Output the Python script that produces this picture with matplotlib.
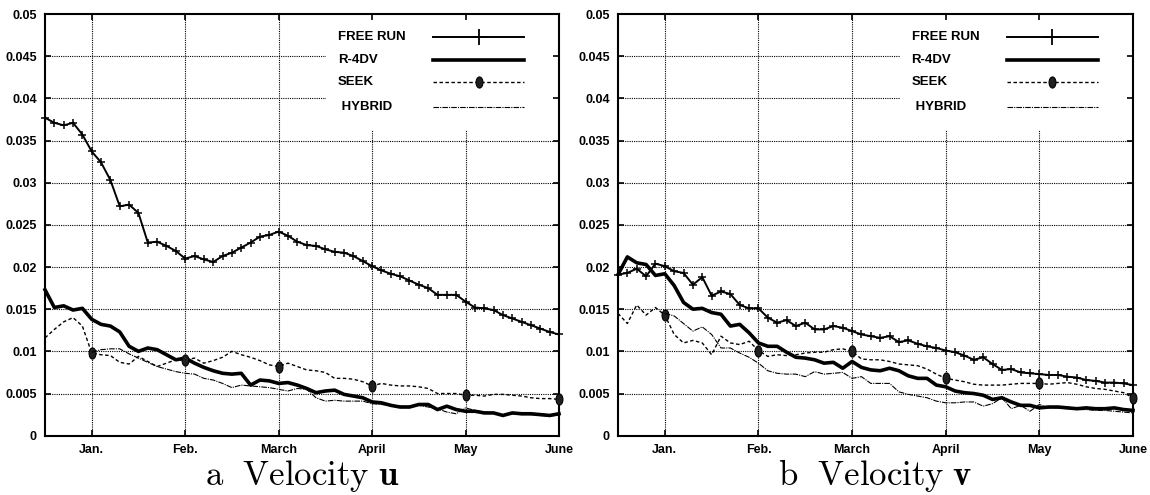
import numpy as np
import matplotlib
matplotlib.use("Agg")
import matplotlib.pyplot as plt
from matplotlib.lines import Line2D
from matplotlib.patches import Rectangle
from matplotlib.path import Path
from matplotlib.transforms import Affine2D

nan = np.nan
# time axis in months (Jan. = 0), sampled every 0.1 month from mid-December to June
months = np.round(np.arange(-5, 51) / 10.0, 1)
month_ticks = [0, 1, 2, 3, 4, 5]
month_labels = ["Jan.", "Feb.", "March", "April", "May", "June"]
y_ticks = [0, 0.005, 0.01, 0.015, 0.02, 0.025, 0.03, 0.035, 0.04, 0.045, 0.05]
y_labels = ["0", "0.005", "0.01", "0.015", "0.02", "0.025", "0.03", "0.035", "0.04", "0.045", "0.05"]
series_names = ["FREE RUN", "R-4DV", "SEEK", " HYBRID"]
captions = [r"$\mathrm{a}\ \ \mathrm{Velocity}\ \mathbf{u}$", r"$\mathrm{b}\ \ \mathrm{Velocity}\ \mathbf{v}$"]

# ---- panel a : velocity u ----
u_free = [0.0377, 0.0371, 0.0368, 0.0371, 0.0357, 0.0337, 0.0324, 0.0303, 0.0272, 0.0274,
          0.0264, 0.0229, 0.0230, 0.0225, 0.0219, 0.0210, 0.0213, 0.0209, 0.0206, 0.0213,
          0.0217, 0.0223, 0.0229, 0.0236, 0.0238, 0.0242, 0.0237, 0.0230, 0.0226, 0.0225,
          0.0221, 0.0218, 0.0217, 0.0213, 0.0207, 0.0201, 0.0196, 0.0192, 0.0189, 0.0184,
          0.0179, 0.0175, 0.0167, 0.0167, 0.0167, 0.0159, 0.0152, 0.0151, 0.0149, 0.0143,
          0.0139, 0.0135, 0.0131, 0.0127, 0.0123, 0.0120]
u_r4dv = [0.0173, 0.0152, 0.0154, 0.0149, 0.0151, 0.0138, 0.0132, 0.0130, 0.0123, 0.0106,
          0.0100, 0.0104, 0.0102, 0.0096, 0.0090, 0.0092, 0.0086, 0.0081, 0.0077, 0.0074,
          0.0073, 0.0074, 0.0060, 0.0066, 0.0065, 0.0062, 0.0063, 0.0060, 0.0056, 0.0051,
          0.0053, 0.0054, 0.0049, 0.0047, 0.0045, 0.0040, 0.0039, 0.0036, 0.0034, 0.0034,
          0.0037, 0.0037, 0.0031, 0.0035, 0.0031, 0.0029, 0.0029, 0.0027, 0.0027, 0.0024,
          0.0027, 0.0026, 0.0026, 0.0025, 0.0024, 0.0026]
u_seek = [0.0116, 0.0126, 0.0135, 0.0140, 0.0130, 0.0098, 0.0096, 0.0095, 0.0087, 0.0085,
          0.0094, 0.0088, 0.0082, 0.0086, 0.0090, 0.0090, 0.0092, 0.0086, 0.0089, 0.0093,
          0.0100, 0.0096, 0.0093, 0.0089, 0.0084, 0.0082, 0.0086, 0.0082, 0.0078, 0.0077,
          0.0075, 0.0068, 0.0068, 0.0067, 0.0064, 0.0059, 0.0062, 0.0060, 0.0059, 0.0059,
          0.0058, 0.0056, 0.0050, 0.0050, 0.0050, 0.0048, 0.0048, 0.0047, 0.0049, 0.0049,
          0.0048, 0.0047, 0.0045, 0.0044, 0.0044, 0.0043]
u_hybrid = [nan, nan, nan, nan, nan, 0.0099, 0.0102, 0.0103, 0.0103, 0.0097,
            0.0092, 0.0087, 0.0082, 0.0079, 0.0076, 0.0074, 0.0073, 0.0068, 0.0066, 0.0062,
            0.0057, 0.0060, 0.0059, 0.0058, 0.0057, 0.0055, 0.0053, 0.0056, 0.0055, 0.0045,
            0.0041, 0.0042, 0.0041, 0.0041, 0.0041, 0.0038, 0.0037, 0.0036, 0.0035, 0.0035,
            0.0036, 0.0034, 0.0032, 0.0028, 0.0026, 0.0033, 0.0030, 0.0028, 0.0027, 0.0025,
            0.0026, 0.0025, 0.0025, 0.0024, 0.0023, 0.0025]

# ---- panel b : velocity v ----
v_free = [0.0191, 0.0193, 0.0198, 0.0189, 0.0204, 0.0201, 0.0195, 0.0193, 0.0179, 0.0188,
          0.0166, 0.0171, 0.0168, 0.0155, 0.0151, 0.0151, 0.0140, 0.0134, 0.0137, 0.0130,
          0.0134, 0.0126, 0.0126, 0.0130, 0.0128, 0.0124, 0.0120, 0.0118, 0.0116, 0.0118,
          0.0111, 0.0113, 0.0109, 0.0106, 0.0104, 0.0101, 0.0099, 0.0095, 0.0090, 0.0093,
          0.0085, 0.0078, 0.0079, 0.0075, 0.0074, 0.0073, 0.0072, 0.0072, 0.0070, 0.0069,
          0.0066, 0.0065, 0.0063, 0.0063, 0.0062, 0.0060]
v_r4dv = [0.0191, 0.0212, 0.0205, 0.0203, 0.0190, 0.0192, 0.0178, 0.0158, 0.0150, 0.0151,
          0.0146, 0.0144, 0.0130, 0.0132, 0.0122, 0.0110, 0.0106, 0.0106, 0.0099, 0.0093,
          0.0092, 0.0090, 0.0086, 0.0087, 0.0080, 0.0088, 0.0081, 0.0078, 0.0077, 0.0080,
          0.0077, 0.0071, 0.0068, 0.0068, 0.0060, 0.0058, 0.0053, 0.0051, 0.0050, 0.0048,
          0.0043, 0.0045, 0.0040, 0.0036, 0.0036, 0.0033, 0.0034, 0.0034, 0.0033, 0.0032,
          0.0033, 0.0032, 0.0032, 0.0033, 0.0031, 0.0030]
v_seek = [0.0145, 0.0133, 0.0155, 0.0143, 0.0152, 0.0143, 0.0120, 0.0110, 0.0113, 0.0110,
          0.0096, 0.0118, 0.0110, 0.0108, 0.0112, 0.0101, 0.0094, 0.0096, 0.0095, 0.0096,
          0.0098, 0.0099, 0.0099, 0.0102, 0.0103, 0.0100, 0.0091, 0.0090, 0.0090, 0.0088,
          0.0085, 0.0084, 0.0083, 0.0079, 0.0073, 0.0068, 0.0066, 0.0064, 0.0061, 0.0060,
          0.0060, 0.0060, 0.0061, 0.0062, 0.0062, 0.0062, 0.0061, 0.0062, 0.0063, 0.0061,
          0.0058, 0.0056, 0.0055, 0.0053, 0.0051, 0.0045]
v_hybrid = [nan, nan, nan, nan, nan, 0.0145, 0.0142, 0.0133, 0.0124, 0.0129,
            0.0120, 0.0104, 0.0104, 0.0098, 0.0093, 0.0086, 0.0077, 0.0074, 0.0073, 0.0073,
            0.0070, 0.0076, 0.0073, 0.0074, 0.0075, 0.0068, 0.0070, 0.0062, 0.0062, 0.0062,
            0.0052, 0.0049, 0.0047, 0.0045, 0.0041, 0.0039, 0.0039, 0.0040, 0.0040, 0.0035,
            0.0038, 0.0045, 0.0032, 0.0036, 0.0029, 0.0037, 0.0033, 0.0033, 0.0032, 0.0031,
            0.0031, 0.0030, 0.0030, 0.0029, 0.0028, 0.0027]

panels = [(u_free, u_r4dv, u_seek, u_hybrid), (v_free, v_r4dv, v_seek, v_hybrid)]

plt.rcParams["mathtext.fontset"] = "cm"
plt.rcParams["font.family"] = ["Liberation Sans", "DejaVu Sans"]

fig = plt.figure(figsize=(11.5, 4.95), dpi=100)
ax_rects = [[45 / 1150, 59.3 / 495, 514 / 1150, 421.7 / 495],
            [618 / 1150, 59.3 / 495, 515 / 1150, 421.7 / 495]]

seek_mark_idx = [int(np.argmin(np.abs(months - m))) for m in month_ticks]
oval = Affine2D().scale(0.62, 1.0).transform_path(Path.unit_circle())

styles = [
    dict(color="black", lw=1.4, marker="+", ms=6, mew=1.1),
    dict(color="black", lw=2.6),
    dict(color="black", lw=1.0, dashes=(2.5, 1.8), marker=oval, ms=8, mfc="#202020",
         mec="black", mew=0.8, markevery=seek_mark_idx),
    dict(color="black", lw=0.8, dashes=(5, 1, 1, 1)),
]
legend_styles = [
    dict(color="black", lw=1.4, marker="+", ms=12, mew=1.3, markevery=[1]),
    dict(color="black", lw=2.6),
    dict(color="black", lw=1.0, dashes=(2.5, 1.8), marker=oval, ms=8, mfc="#202020",
         mec="black", mew=0.8, markevery=[1]),
    dict(color="black", lw=0.8, dashes=(5, 1, 1, 1)),
]

for p, (rect, data) in enumerate(zip(ax_rects, panels)):
    ax = fig.add_axes(rect)
    ax.set_xlim(-0.5, 5)
    ax.set_ylim(0, 0.05)
    # dotted grid
    for yt in y_ticks[1:-1]:
        ax.axhline(yt, color="black", lw=0.8, ls=(0, (1, 1)), zorder=0.5)
    for xt in month_ticks[:-1]:
        ax.axvline(xt, color="black", lw=0.8, ls=(0, (1, 1)), zorder=0.5)
    # white legend area hiding the grid
    ax.add_patch(Rectangle((0.547, 0.725), 0.453, 0.275, transform=ax.transAxes,
                           facecolor="white", edgecolor="none", zorder=1))
    for vals, st in zip(data, styles):
        ax.plot(months, vals, zorder=3, clip_on=False, **st)
    ax.set_xticks(month_ticks)
    ax.set_xticklabels(month_labels)
    ax.set_yticks(y_ticks)
    ax.set_yticklabels(y_labels)
    ax.tick_params(direction="in", length=4, width=1.2, top=True, right=True,
                   labelsize=9, pad=6, zorder=5)
    for lab in ax.get_xticklabels() + ax.get_yticklabels():
        lab.set_fontweight("bold")
    for sp in ax.spines.values():
        sp.set_linewidth(1.5)
        sp.set_zorder(2)
    # legend drawn by hand: label left, sample right
    rows_y = [0.9455, 0.8921, 0.8387, 0.7806]
    for name, st, yy in zip(series_names, legend_styles, rows_y):
        ax.text(0.570, yy, name, transform=ax.transAxes, fontsize=9.5,
                fontweight="bold", va="center", ha="left", zorder=4)
        ax.add_line(Line2D([0.755, 0.8435, 0.932], [yy, yy, yy], transform=ax.transAxes,
                           zorder=4, **st))
    cx = rect[0] + rect[2] / 2
    fig.text(cx, 10 / 495, captions[p], ha="center", va="baseline", fontsize=25)

fig.savefig("out.png", dpi=100)
